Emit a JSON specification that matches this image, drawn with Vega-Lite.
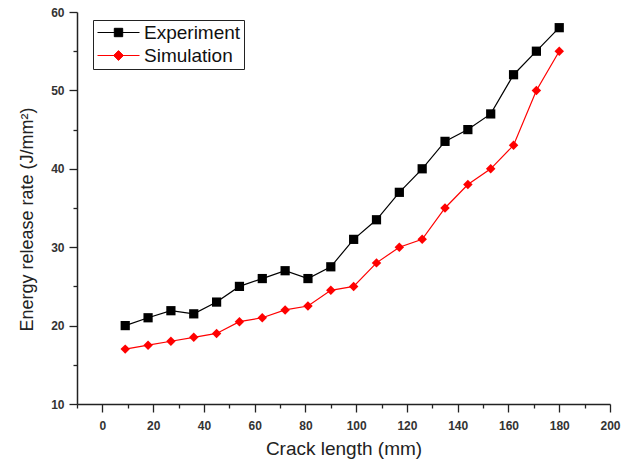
{
  "$schema": "https://vega.github.io/schema/vega-lite/v6.json",
  "width": 533,
  "height": 392,
  "autosize": {"type": "none"},
  "padding": {"left": 77, "top": 12, "right": 21, "bottom": 62},
  "background": "white",
  "config": {
    "view": {"stroke": null},
    "font": "Liberation Sans",
    "axis": {
      "domainColor": "#222222",
      "domainWidth": 1.5,
      "tickColor": "#222222",
      "tickWidth": 1.3,
      "grid": false,
      "labelFont": "Liberation Sans",
      "labelFontSize": 12,
      "labelFontWeight": "bold",
      "labelColor": "#333333",
      "titleFont": "Liberation Sans",
      "titleFontSize": 19,
      "titleFontWeight": "normal",
      "titleColor": "#222222"
    }
  },
  "data": {
    "values": [
      {"crack": 9, "rate": 20, "series": "Experiment"},
      {"crack": 18, "rate": 21, "series": "Experiment"},
      {"crack": 27, "rate": 21.9, "series": "Experiment"},
      {"crack": 36, "rate": 21.5, "series": "Experiment"},
      {"crack": 45, "rate": 23, "series": "Experiment"},
      {"crack": 54, "rate": 25, "series": "Experiment"},
      {"crack": 63, "rate": 26, "series": "Experiment"},
      {"crack": 72, "rate": 27, "series": "Experiment"},
      {"crack": 81, "rate": 26, "series": "Experiment"},
      {"crack": 90, "rate": 27.5, "series": "Experiment"},
      {"crack": 99, "rate": 31, "series": "Experiment"},
      {"crack": 108, "rate": 33.5, "series": "Experiment"},
      {"crack": 117, "rate": 37, "series": "Experiment"},
      {"crack": 126, "rate": 40, "series": "Experiment"},
      {"crack": 135, "rate": 43.5, "series": "Experiment"},
      {"crack": 144, "rate": 45, "series": "Experiment"},
      {"crack": 153, "rate": 47, "series": "Experiment"},
      {"crack": 162, "rate": 52, "series": "Experiment"},
      {"crack": 171, "rate": 55, "series": "Experiment"},
      {"crack": 180, "rate": 58, "series": "Experiment"},
      {"crack": 9, "rate": 17, "series": "Simulation"},
      {"crack": 18, "rate": 17.5, "series": "Simulation"},
      {"crack": 27, "rate": 18, "series": "Simulation"},
      {"crack": 36, "rate": 18.5, "series": "Simulation"},
      {"crack": 45, "rate": 19, "series": "Simulation"},
      {"crack": 54, "rate": 20.5, "series": "Simulation"},
      {"crack": 63, "rate": 21, "series": "Simulation"},
      {"crack": 72, "rate": 22, "series": "Simulation"},
      {"crack": 81, "rate": 22.5, "series": "Simulation"},
      {"crack": 90, "rate": 24.5, "series": "Simulation"},
      {"crack": 99, "rate": 25, "series": "Simulation"},
      {"crack": 108, "rate": 28, "series": "Simulation"},
      {"crack": 117, "rate": 30, "series": "Simulation"},
      {"crack": 126, "rate": 31, "series": "Simulation"},
      {"crack": 135, "rate": 35, "series": "Simulation"},
      {"crack": 144, "rate": 38, "series": "Simulation"},
      {"crack": 153, "rate": 40, "series": "Simulation"},
      {"crack": 162, "rate": 43, "series": "Simulation"},
      {"crack": 171, "rate": 50, "series": "Simulation"},
      {"crack": 180, "rate": 55, "series": "Simulation"}
    ]
  },
  "encoding": {
    "x": {
      "field": "crack",
      "type": "quantitative",
      "scale": {"domain": [-10, 200], "nice": false, "zero": false},
      "axis": {
        "title": "Crack length (mm)",
        "values": [-10, 0, 10, 20, 30, 40, 50, 60, 70, 80, 90, 100, 110, 120, 130, 140, 150, 160, 170, 180, 190, 200],
        "labelExpr": "datum.value % 20 === 0 ? datum.label : ''",
        "tickSize": {"condition": {"test": "datum.value % 20 === 0", "value": 8}, "value": 4},
        "labelPadding": 8,
        "titlePadding": 8,
        "labelFlush": false,
        "labelOverlap": false
      }
    },
    "y": {
      "field": "rate",
      "type": "quantitative",
      "scale": {"domain": [10, 60], "nice": false, "zero": false},
      "axis": {
        "title": "Energy release rate (J/mm²)",
        "titleFontSize": 18,
        "titleY": 207,
        "values": [10, 15, 20, 25, 30, 35, 40, 45, 50, 55, 60],
        "labelExpr": "datum.value % 10 === 0 ? datum.label : ''",
        "tickSize": {"condition": {"test": "datum.value % 10 === 0", "value": 8}, "value": 4},
        "labelPadding": 5,
        "titlePadding": 14,
        "labelFlush": false,
        "labelOverlap": false
      }
    },
    "color": {
      "field": "series",
      "type": "nominal",
      "scale": {"domain": ["Experiment", "Simulation"], "range": ["#000000", "#ff0000"]},
      "legend": {
        "title": null,
        "orient": "none",
        "legendX": 16,
        "legendY": 8,
        "strokeColor": "#222222",
        "padding": 3,
        "symbolSize": 196,
        "symbolOffset": 13,
        "symbolStrokeWidth": 1,
        "symbolType": "M-3,0H3M-0.6,-0.6H0.6V0.6H-0.6Z",
        "labelFont": "Liberation Sans",
        "labelFontSize": 19,
        "labelColor": "#111111",
        "labelOffset": 16,
        "rowPadding": 3,
        "encode": {
          "symbols": {
            "update": {
              "shape": {"signal": "datum.value === 'Experiment' ? 'M-3,0H3M-0.6,-0.6H0.6V0.6H-0.6Z' : 'M-3,0H3M0,-0.7L0.7,0L0,0.7L-0.7,0Z'"},
              "fillOpacity": {"value": 1},
              "strokeOpacity": {"value": 1}
            }
          }
        }
      }
    }
  },
  "layer": [
    {"mark": {"type": "line", "strokeWidth": 1.2}},
    {
      "transform": [{"filter": "datum.series === 'Experiment'"}],
      "mark": {"type": "point", "filled": true, "opacity": 1, "size": 85, "shape": "square"}
    },
    {
      "transform": [{"filter": "datum.series === 'Simulation'"}],
      "mark": {"type": "point", "filled": true, "opacity": 1, "size": 90, "shape": "M0,-1L1,0L0,1L-1,0Z"}
    }
  ]
}
